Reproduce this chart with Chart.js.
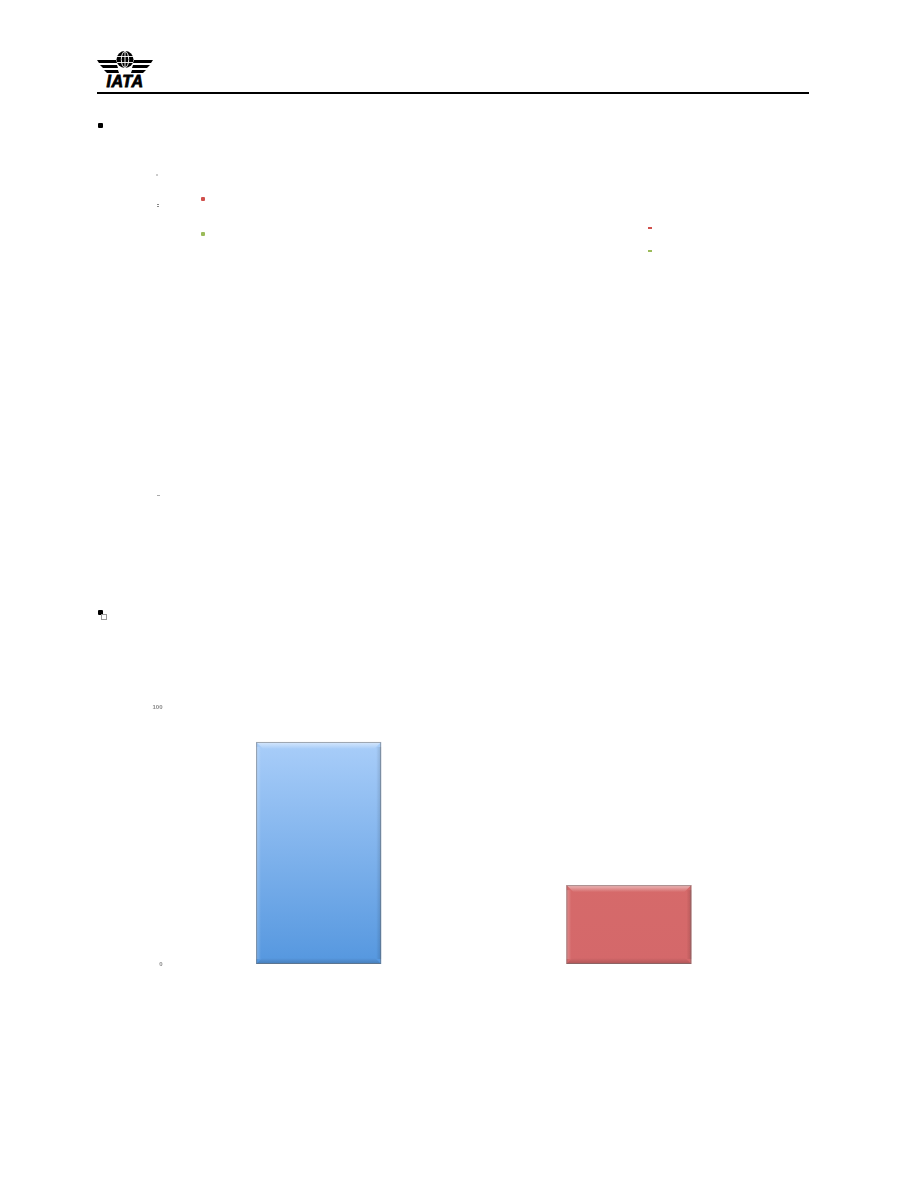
<!DOCTYPE html>
<html>
<head>
<meta charset="utf-8">
<script src="https://cdn.jsdelivr.net/npm/chart.js@4/dist/chart.umd.min.js"></script>
<style>
  html,body{margin:0;padding:0;background:#fff;}
  body{width:918px;height:1188px;position:relative;overflow:hidden;font-family:"Liberation Sans",Arial,sans-serif;}
  .abs{position:absolute;}
  #rule{left:97px;top:92px;width:712px;height:2px;background:#000;}
  .bullet{width:5px;height:5px;background:#000;border-radius:1px;}
  .mk{position:absolute;}
  #chartBox{position:absolute;left:120px;top:700px;width:680px;height:280px;}
</style>
</head>
<body>
<svg class="abs" style="left:96px;top:48px" width="60" height="42" viewBox="0 0 60 42">
  <g fill="#000">
    <polygon points="1,12 20,12 21,15 3,15"/>
    <polygon points="4,17 21,17 22,20 7,20"/>
    <polygon points="8,22 22,22 23,25 11,25"/>
    <polygon points="57,12 38,12 37,15 55,15"/>
    <polygon points="54,17 37,17 36,20 51,20"/>
    <polygon points="50,22 36,22 35,25 47,25"/>
  </g>
  <circle cx="29" cy="11.5" r="8.5" fill="#000"/>
  <g stroke="#fff" stroke-width="0.9" fill="none">
    <ellipse cx="29" cy="11.5" rx="3.7" ry="8"/>
    <line x1="29" y1="3" x2="29" y2="20"/>
    <line x1="21" y1="8.5" x2="37" y2="8.5"/>
    <line x1="21" y1="14.5" x2="37" y2="14.5"/>
  </g>
  <text x="29" y="39" text-anchor="middle" font-family="Liberation Sans, Arial" font-weight="bold" font-style="italic" font-size="16" fill="#000" stroke="#000" stroke-width="0.8" letter-spacing="0.5">IATA</text>
</svg>
<div id="rule" class="abs"></div>

<div class="abs bullet" style="left:98px;top:123px"></div>
<div class="abs bullet" style="left:98px;top:610px"></div>
<div class="abs" style="left:101px;top:614px;width:4px;height:4px;border:1px solid #999;"></div>

<div class="mk" style="left:156px;top:174px;width:2px;height:2px;background:#ccc"></div>
<div class="mk" style="left:157px;top:204px;width:2px;height:1px;background:#888"></div>
<div class="mk" style="left:157px;top:206px;width:2px;height:1px;background:#888"></div>
<div class="mk" style="left:201px;top:197px;width:4px;height:4px;background:#d0504c;border-radius:1px"></div>
<div class="mk" style="left:201px;top:232px;width:4px;height:4px;background:#9bbb59;border-radius:1px"></div>
<div class="mk" style="left:648px;top:227px;width:4px;height:2px;background:#d0504c"></div>
<div class="mk" style="left:648px;top:250px;width:4px;height:2px;background:#9bbb59"></div>
<div class="mk" style="left:157px;top:495px;width:3px;height:1px;background:#aaa"></div>

<div id="chartBox"><canvas id="c"></canvas></div>

<script>
const categories = ["A", "B"];
const values = [86.4, 30.7];
const tickValues = [0, 100];
const topColors = ["#b6d6fd", "#d96e6a"];
const bottomColors = ["#5597df", "#d4686a"];

const bevel = {
  id: 'bevel',
  afterDatasetsDraw(chart) {
    const ctx = chart.ctx;
    const meta = chart.getDatasetMeta(0);
    meta.data.forEach((bar, i) => {
      const w = bar.width, l = bar.x - w / 2, r = bar.x + w / 2, t = bar.y, b = bar.base;
      ctx.save();
      let g = ctx.createLinearGradient(0, t, 0, t + 7);
      g.addColorStop(0, 'rgba(255,255,255,0.55)');
      g.addColorStop(1, 'rgba(255,255,255,0)');
      ctx.fillStyle = g;
      ctx.beginPath();
      ctx.moveTo(l, t); ctx.lineTo(r, t); ctx.lineTo(r - 7, t + 7); ctx.lineTo(l + 7, t + 7); ctx.closePath();
      ctx.fill();
      g = ctx.createLinearGradient(0, b - 6, 0, b);
      g.addColorStop(0, 'rgba(0,0,0,0)');
      g.addColorStop(1, 'rgba(0,0,0,0.18)');
      ctx.fillStyle = g;
      ctx.beginPath();
      ctx.moveTo(l, b); ctx.lineTo(r, b); ctx.lineTo(r - 6, b - 6); ctx.lineTo(l + 6, b - 6); ctx.closePath();
      ctx.fill();
      g = ctx.createLinearGradient(r - 5, 0, r, 0);
      g.addColorStop(0, 'rgba(0,0,0,0)');
      g.addColorStop(1, 'rgba(0,0,0,0.15)');
      ctx.fillStyle = g;
      ctx.fillRect(r - 5, t + 5, 5, b - t - 10);
      g = ctx.createLinearGradient(l, 0, l + 5, 0);
      g.addColorStop(0, 'rgba(255,255,255,0.25)');
      g.addColorStop(1, 'rgba(255,255,255,0)');
      ctx.fillStyle = g;
      ctx.fillRect(l, t + 5, 5, b - t - 10);
      ctx.strokeStyle = 'rgba(110,110,110,0.55)';
      ctx.lineWidth = 1;
      ctx.strokeRect(l + 0.5, t + 0.5, w - 1, b - t - 1);
      ctx.restore();
    });
  }
};

new Chart(document.getElementById('c'), {
  type: 'bar',
  data: {
    labels: categories,
    datasets: [{
      data: values,
      backgroundColor: (c) => {
        const chart = c.chart;
        const area = chart.chartArea;
        if (!area || c.type !== 'data') return topColors[c.dataIndex] || '#999';
        const el = chart.getDatasetMeta(0).data[c.dataIndex];
        const y0 = el && isFinite(el.y) ? el.y : area.top;
        const g = chart.ctx.createLinearGradient(0, y0, 0, area.bottom);
        g.addColorStop(0, topColors[c.dataIndex]);
        g.addColorStop(1, bottomColors[c.dataIndex]);
        return g;
      },
      borderWidth: 0,
      categoryPercentage: 1,
      barPercentage: 0.403
    }]
  },
  options: {
    responsive: true,
    maintainAspectRatio: false,
    animation: false,
    layout: { padding: { top: 7, bottom: 16, right: 16, left: 0 } },
    plugins: { legend: { display: false }, tooltip: { enabled: false } },
    scales: {
      x: { display: false },
      y: {
        min: tickValues[0], max: tickValues[tickValues.length - 1],
        afterFit: (s) => { s.width = 43.5; },
        afterBuildTicks: (s) => { s.ticks = tickValues.map(v => ({ value: v })); },
        grid: { display: false, drawTicks: false },
        border: { display: false },
        ticks: { font: { size: 6, weight: 'bold' }, color: '#888', padding: 1 }
      }
    }
  },
  plugins: [bevel]
});
</script>
</body>
</html>
